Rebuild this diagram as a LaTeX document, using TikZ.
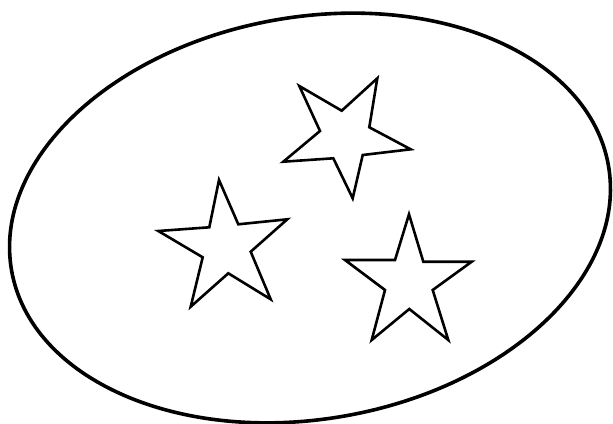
\documentclass[tikz,border=0pt]{standalone}
\begin{document}
\begin{tikzpicture}[x=1pt,y=-1pt,
  outline/.style={draw=black,line width=3.6pt},
  starline/.style={draw=black,line width=2.6pt,line join=miter}]
\useasboundingbox (0,0) rectangle (613,423);
\fill[white] (0,0) rectangle (613,423);
\draw[outline,rotate around={10:(310,218)}] (310,218) ellipse [x radius=303, y radius=201];
% star top
\draw[starline] (299.3,86) -- (341.7,110.7) -- (377.3,78.3) -- (369.3,127.3) -- (410.7,149.3)
  -- (362.7,155) -- (352.7,198.3) -- (333.3,158.3) -- (283.3,161.7) -- (320,131) -- cycle;
% star left
\draw[starline] (219,180) -- (238.3,224.3) -- (287.3,219.3) -- (250.7,251.7) -- (270.7,299.3)
  -- (228.3,273.3) -- (190.7,306.7) -- (202.7,257.3) -- (158.3,231) -- (209.3,227.3) -- cycle;
% star right
\draw[starline] (409,214.3) -- (423.3,261.7) -- (471.7,261.7) -- (432.7,290) -- (448.3,340)
  -- (409.3,309) -- (371.7,340) -- (385,290) -- (345,260) -- (395,260) -- cycle;
\end{tikzpicture}
\end{document}
